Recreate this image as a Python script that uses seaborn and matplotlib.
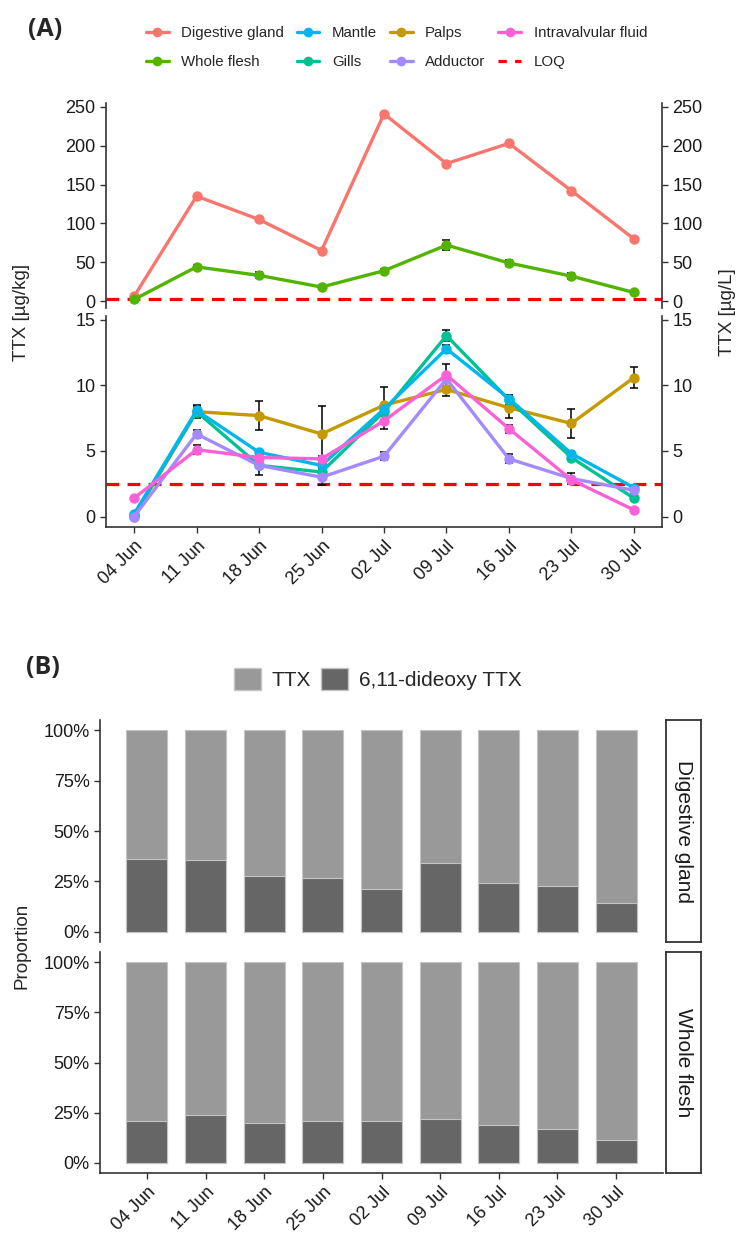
import pandas as pd
import matplotlib.pyplot as plt
import seaborn as sns
from matplotlib.lines import Line2D
from matplotlib.patches import Patch
from matplotlib.ticker import PercentFormatter

# sampling dates (weekly)
dates = ["04 Jun", "11 Jun", "18 Jun", "25 Jun", "02 Jul", "09 Jul", "16 Jul", "23 Jul", "30 Jul"]

# (A) upper panel, TTX [ug/kg]
digestive_gland = [6, 135, 105, 65, 241, 177, 203, 142, 80]
whole_flesh = [2, 44, 33, 18, 39, 72, 49, 32, 11]
whole_flesh_err = [0, 2, 4, 2, 2, 6, 4, 3.5, 1.5]

# (A) lower panel, TTX [ug/kg] / [ug/L]
mantle = [0.2, 8.1, 4.9, 3.9, 8.2, 12.8, 9.0, 4.8, 2.2]
mantle_err = [0, 0.4, 0.2, 0.2, 0.3, 0.3, 0.3, 0.2, 0.2]
gills = [0.1, 8.0, 3.9, 3.4, 8.0, 13.8, 8.9, 4.5, 1.4]
gills_err = [0, 0.3, 0.7, 0.3, 0.3, 0.4, 0.4, 0.2, 0.15]
palps = [0.0, 8.0, 7.7, 6.3, 8.5, 9.7, 8.3, 7.1, 10.6]
palps_err = [0, 0.45, 1.1, 2.1, 1.4, 0.5, 0.8, 1.1, 0.8]
adductor = [0.0, 6.3, 3.9, 3.0, 4.6, 10.5, 4.4, 2.9, 2.0]
adductor_err = [0, 0.3, 0.2, 0.6, 0.3, 0.3, 0.35, 0.4, 0.2]
intravalvular = [1.4, 5.1, 4.5, 4.4, 7.3, 10.8, 6.7, 2.8, 0.5]
intravalvular_err = [0, 0.35, 0.2, 0.2, 0.6, 0.85, 0.3, 0.2, 0.1]
loq = 2.5

# (B) proportion of 6,11-dideoxy TTX
dg_dideoxy = [0.363, 0.356, 0.277, 0.269, 0.215, 0.342, 0.243, 0.226, 0.144]
wf_dideoxy = [0.208, 0.238, 0.200, 0.210, 0.210, 0.217, 0.188, 0.167, 0.112]

palette = {
    "Digestive gland": "#F8766D",
    "Palps": "#C49A00",
    "Whole flesh": "#53B400",
    "Gills": "#00C094",
    "Mantle": "#00B6EB",
    "Adductor": "#A58AFF",
    "Intravalvular fluid": "#FB61D7",
}

sns.set_theme(style="ticks")
plt.rcParams["font.family"] = ["Liberation Sans", "DejaVu Sans"]

W, H = 744, 1242
fig = plt.figure(figsize=(W / 100, H / 100), dpi=100)


def px_axes(left, top, right, bottom):
    return fig.add_axes([left / W, 1 - bottom / H, (right - left) / W, (bottom - top) / H])


def style_axis(ax, bottom=True, right=False):
    for side in ["left", "bottom", "right", "top"]:
        ax.spines[side].set_color("#333333")
        ax.spines[side].set_linewidth(1.2)
    ax.spines["top"].set_visible(False)
    ax.spines["bottom"].set_visible(bottom)
    ax.spines["right"].set_visible(right)
    ax.tick_params(colors="#333333", labelcolor="#1a1a1a", labelsize=13, length=4, width=1)
    ax.tick_params(axis="x", bottom=bottom, labelbottom=bottom)
    if right:
        ax.tick_params(axis="y", right=True, labelright=True)
    ax.set_xlabel("")
    ax.set_ylabel("")


def long_form(series):
    rows = []
    for name, vals, errs in series:
        for i, (v, e) in enumerate(zip(vals, errs)):
            rows.append({"idx": i, "value": v, "err": e, "tissue": name})
    return pd.DataFrame(rows)


upper = long_form([
    ("Digestive gland", digestive_gland, [0] * len(dates)),
    ("Whole flesh", whole_flesh, whole_flesh_err),
])
lower = long_form([
    ("Palps", palps, palps_err),
    ("Gills", gills, gills_err),
    ("Mantle", mantle, mantle_err),
    ("Adductor", adductor, adductor_err),
    ("Intravalvular fluid", intravalvular, intravalvular_err),
])

line_kw = dict(marker="o", markersize=7.5, markeredgewidth=0, linewidth=2.4, legend=False, errorbar=None)
loq_kw = dict(color="#FF0000", linestyle=(0, (4, 2.6)), linewidth=2.3)
err_kw = dict(fmt="none", ecolor="black", elinewidth=1.1, capsize=2.8, capthick=1.1, zorder=1.8)

# ---- panel A, upper part
ax_up = px_axes(106, 103, 662, 308)
sns.lineplot(data=upper, x="idx", y="value", hue="tissue", palette=palette, ax=ax_up, **line_kw)
sub = upper[upper["err"] > 0]
ax_up.errorbar(sub["idx"], sub["value"], yerr=sub["err"], **err_kw)
ax_up.axhline(loq, zorder=1, **loq_kw)
ax_up.set_xlim(-0.45, 8.45)
ax_up.set_ylim(-9, 255)
ax_up.set_yticks([0, 50, 100, 150, 200, 250])
style_axis(ax_up, bottom=False, right=True)

# ---- panel A, lower part
ax_lo = px_axes(106, 316, 662, 527)
sns.lineplot(data=lower, x="idx", y="value", hue="tissue", palette=palette, ax=ax_lo, **line_kw)
sub = lower[lower["err"] > 0]
ax_lo.errorbar(sub["idx"], sub["value"], yerr=sub["err"], **err_kw)
ax_lo.axhline(loq, zorder=1, **loq_kw)
ax_lo.set_xlim(-0.45, 8.45)
ax_lo.set_ylim(-0.8, 15.3)
ax_lo.set_yticks([0, 5, 10, 15])
ax_lo.set_xticks(range(len(dates)))
ax_lo.set_xticklabels(dates, rotation=45, ha="right", rotation_mode="anchor")
style_axis(ax_lo, bottom=True, right=True)

fig.text(22 / W, 1 - 312 / H, "TTX [µg/kg]", rotation=90, ha="center", va="center", fontsize=13.5)
fig.text(728 / W, 1 - 312 / H, "TTX [µg/L]", rotation=90, ha="center", va="center", fontsize=13.5)

handles = []
order = ["Digestive gland", "Whole flesh", "Mantle", "Gills", "Palps", "Adductor", "Intravalvular fluid"]
for name in order:
    handles.append(Line2D([], [], color=palette[name], marker="o", markersize=7,
                          markeredgewidth=0, linewidth=2.4, label=name))
handles.append(Line2D([], [], color="#FF0000", linestyle=(0, (2.6, 2.6)), linewidth=2.3, label="LOQ"))
fig.legend(handles=handles, ncol=4, loc="upper left", bbox_to_anchor=(146 / W, 1 - 26 / H),
           frameon=False, fontsize=10.8, handlelength=1.5, handletextpad=0.85,
           columnspacing=0.85, labelspacing=1.0, borderpad=0, borderaxespad=0)

fig.text(28 / W, 1 - 30 / H, "(A)", fontsize=18, fontweight="bold", family=["Open Sans", "DejaVu Sans"],
         ha="left", va="center")

# ---- panel B, stacked proportions
light, dark, edge = "#999999", "#666666", "#c4c4c4"
facets = [("Digestive gland", dg_dideoxy, 720, 942), ("Whole flesh", wf_dideoxy, 952, 1173)]
for k, (name, dideoxy, top, bottom) in enumerate(facets):
    ax = px_axes(100, top, 663, bottom)
    df = pd.DataFrame({"date": dates, "dideoxy": dideoxy})
    df["ttx"] = 1 - df["dideoxy"]
    df["total"] = df["ttx"] + df["dideoxy"]
    sns.barplot(data=df, x="date", y="total", color=light, saturation=1, width=0.7,
                edgecolor=edge, linewidth=0.8, ax=ax)
    sns.barplot(data=df, x="date", y="dideoxy", color=dark, saturation=1, width=0.7,
                edgecolor=edge, linewidth=0.8, ax=ax)
    ax.set_xlim(-0.8, 8.8)
    ax.set_ylim(-0.05, 1.05)
    ax.set_yticks([0, 0.25, 0.5, 0.75, 1.0])
    ax.yaxis.set_major_formatter(PercentFormatter(1.0, decimals=0))
    last = k == len(facets) - 1
    style_axis(ax, bottom=last)
    if last:
        ax.set_xticks(range(len(dates)))
        ax.set_xticklabels(dates, rotation=45, ha="right", rotation_mode="anchor")

    strip = px_axes(666, top, 701, bottom)
    strip.set_xticks([])
    strip.set_yticks([])
    for side in strip.spines.values():
        side.set_color("#333333")
        side.set_linewidth(1.3)
    strip.text(0.5, 0.5, name, rotation=-90, ha="center", va="center", fontsize=15,
               color="#1a1a1a", transform=strip.transAxes)

fig.text(22 / W, 1 - 946 / H, "Proportion", rotation=90, ha="center", va="center", fontsize=13.5)
fig.text(26 / W, 1 - 667 / H, "(B)", fontsize=18, fontweight="bold", family=["Open Sans", "DejaVu Sans"],
         ha="left", va="center")

b_handles = [Patch(facecolor=light, edgecolor=edge, label="TTX"),
             Patch(facecolor=dark, edgecolor=edge, label="6,11-dideoxy TTX")]
fig.legend(handles=b_handles, ncol=2, loc="center left", bbox_to_anchor=(234 / W, 1 - 679 / H),
           frameon=False, fontsize=15, handlelength=1.3, handleheight=1.3, handletextpad=0.5,
           columnspacing=0.5, borderpad=0, borderaxespad=0)

fig.savefig("out.png", dpi=100)
